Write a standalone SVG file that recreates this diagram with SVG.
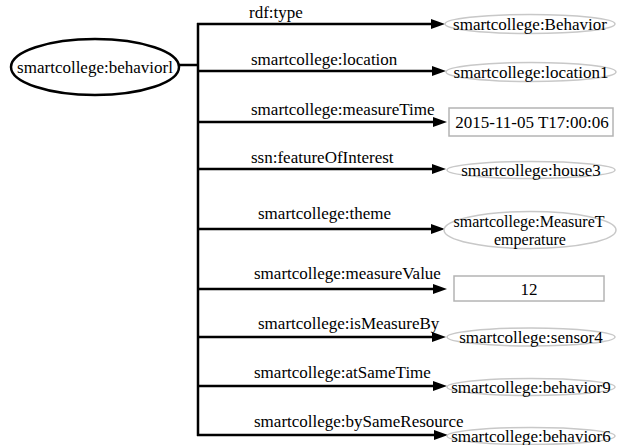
<svg xmlns="http://www.w3.org/2000/svg" width="621" height="445" viewBox="0 0 621 445">
  <style>
    text { font-family: "Liberation Serif", "Times New Roman", serif; font-size: 17px; fill: #000; }
    .mid { text-anchor: middle; }
    .tight { font-size: 16px; }
    .subj { fill: #fff; stroke: #000; stroke-width: 2.5; }
    .res { fill: #fff; stroke: #c8c8c8; stroke-width: 1.5; }
    .lit { fill: #fff; stroke: #b4b4b4; stroke-width: 1.5; }
    .wire { fill: none; stroke: #000; stroke-width: 2.5; }
    .edge { fill: none; stroke: #000; stroke-width: 2.5; marker-end: url(#arrow); }
  </style>
  <defs>
    <marker id="arrow" markerUnits="userSpaceOnUse" markerWidth="16" markerHeight="12" refX="2" refY="5" orient="auto">
      <path d="M0,0 L14,5 L0,10 z" fill="#000"/>
    </marker>
  </defs>
  <rect width="621" height="445" fill="#fff"/>

  <!-- subject node -->
  <g id="behavior1">
    <ellipse class="subj" cx="95" cy="67" rx="84" ry="28"/>
    <text class="mid" x="95" y="73">smartcollege:behaviorl</text>
  </g>

  <!-- connectors: trunk, branches and their predicate labels -->
  <g id="connectors">
    <path class="wire" d="M179,65 H198"/>
    <path class="wire" d="M198,23 V436"/>
    <path class="edge" d="M197,24 H433"/>
    <path class="edge" d="M197,71 H434"/>
    <path class="edge" d="M197,122 H435"/>
    <path class="edge" d="M197,169 H434"/>
    <path class="edge" d="M197,229 H433"/>
    <path class="edge" d="M197,289 H435"/>
    <path class="edge" d="M197,337 H434"/>
    <path class="edge" d="M197,386 H435"/>
    <path class="edge" d="M197,435 H436"/>
    <text x="249" y="18">rdf:type</text>
    <text x="251" y="65">smartcollege:location</text>
    <text x="251" y="115">smartcollege:measureTime</text>
    <text x="251" y="163">ssn:featureOfInterest</text>
    <text x="258" y="219">smartcollege:theme</text>
    <text x="254" y="279">smartcollege:measureValue</text>
    <text x="258" y="329">smartcollege:isMeasureBy</text>
    <text x="254" y="378">smartcollege:atSameTime</text>
    <text x="254" y="427">smartcollege:bySameResource</text>
  </g>

  <!-- object nodes -->
  <g id="Behavior">
    <ellipse class="res" cx="530" cy="24" rx="85" ry="9.5"/>
    <text class="mid" x="530" y="30">smartcollege:Behavior</text>
  </g>
  <g id="location1">
    <ellipse class="res" cx="531" cy="72" rx="85" ry="9.5"/>
    <text class="mid" x="531" y="78">smartcollege:location1</text>
  </g>
  <g id="measureTime">
    <rect class="lit" x="449" y="108" width="164" height="28"/>
    <text class="mid" x="532" y="128">2015-11-05 T17:00:06</text>
  </g>
  <g id="house3">
    <ellipse class="res" cx="531" cy="170" rx="84" ry="8.5"/>
    <text class="mid" x="531" y="176">smartcollege:house3</text>
  </g>
  <g id="MeasureTemperature">
    <ellipse class="res" cx="530" cy="230" rx="86" ry="18.5"/>
    <text class="mid tight" x="529" y="227">smartcollege:MeasureT</text>
    <text class="mid tight" x="530" y="245">emperature</text>
  </g>
  <g id="measureValue">
    <rect class="lit" x="454" y="276" width="150" height="25"/>
    <text class="mid" x="529" y="295">12</text>
  </g>
  <g id="sensor4">
    <ellipse class="res" cx="531" cy="337" rx="84" ry="9"/>
    <text class="mid" x="531" y="343">smartcollege:sensor4</text>
  </g>
  <g id="behavior9">
    <ellipse class="res" cx="531" cy="387" rx="84" ry="8.5"/>
    <text class="mid" x="531" y="393">smartcollege:behavior9</text>
  </g>
  <g id="behavior6">
    <ellipse class="res" cx="531" cy="436" rx="84" ry="8.5"/>
    <text class="mid" x="531" y="442">smartcollege:behavior6</text>
  </g>
</svg>
